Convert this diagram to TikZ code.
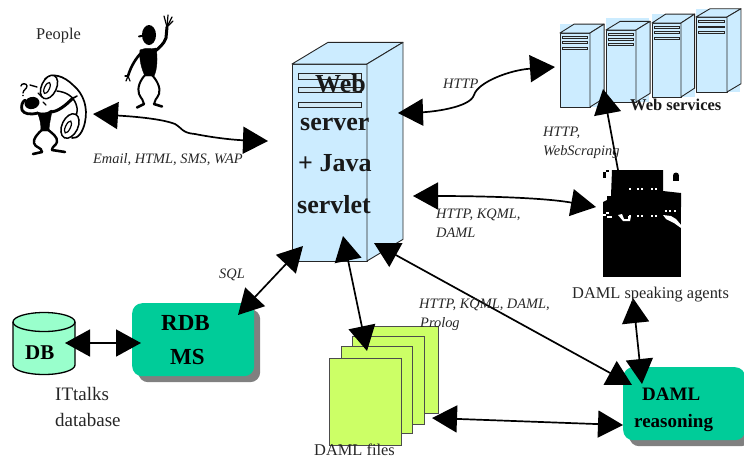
\documentclass[tikz,border=0pt]{standalone}
\usepackage{fontspec}
\setmainfont{Liberation Serif}
\usetikzlibrary{arrows.meta,calc}
\definecolor{srvblue}{HTML}{CCECFF}
\definecolor{boxgreen}{HTML}{00CC99}
\definecolor{dbgreen}{HTML}{99FFCC}
\definecolor{pagegreen}{HTML}{CCFF66}
\definecolor{shadowgray}{HTML}{808080}
\definecolor{barblue}{HTML}{99CCE6}
\tikzset{
  bighead/.tip={Triangle[length=25pt,width=27pt]},
  conn/.style={line width=1.7pt,draw=black,{bighead}-{bighead}},
  connone/.style={line width=1.7pt,draw=black,-{bighead}},
  srvline/.style={draw=black!85,line width=0.9pt,fill=srvblue,line join=round},
  srvbar/.style={draw=black!85,line width=0.9pt,fill=barblue!45},
  roundbox/.style={rounded corners=10pt,fill=boxgreen,draw=none,anchor=north west,minimum width=122pt,minimum height=73pt,inner sep=0pt},
  roundshadow/.style={roundbox,fill=shadowgray},
  pagebox/.style={draw=black!70,line width=0.9pt,fill=pagegreen},
  ital/.style={anchor=base west,inner sep=0pt,font=\fontsize{14.4}{14.4}\selectfont\itshape,text=black!85},
  plain/.style={anchor=base west,inner sep=0pt,font=\fontsize{16.4}{16.4}\selectfont,text=black!85},
  plainbig/.style={anchor=base west,inner sep=0pt,font=\fontsize{19}{19}\selectfont,text=black!85},
  boldhuge/.style={anchor=base west,inner sep=0pt,font=\fontsize{26}{26}\selectfont\bfseries,text=black!90},
  boldmid/.style={anchor=base west,inner sep=0pt,font=\fontsize{21}{21}\selectfont\bfseries},
  boldsmall/.style={anchor=base west,inner sep=0pt,font=\fontsize{16.5}{16.5}\selectfont\bfseries,text=black!90},
  limb/.style={draw=black,line cap=round,line join=round},
  inkfill/.style={fill=black,draw=black,line join=round},
}
\newcommand{\serverunit}[6]{% x0 width ytop height dxfrac dyfrac
  \begin{scope}[shift={(#1,#3)},xscale=#2,yscale=#4]
    \path[srvline] (0,0) -- (1,0) -- (1,1) -- (0,1) -- cycle;
    \path[srvline] (0,0) -- (#5,-#6) -- (1+#5,-#6) -- (1,0) -- cycle;
    \path[srvline] (1,0) -- (1+#5,-#6) -- (1+#5,1-#6) -- (1,1) -- cycle;
    \path[srvbar] (0.08,0.046) rectangle (0.93,0.076);
    \path[srvbar] (0.08,0.12) rectangle (0.93,0.143);
    \path[srvbar] (0.08,0.193) rectangle (0.93,0.218);
  \end{scope}}
\begin{document}
\begin{tikzpicture}[x=1pt,y=-1pt]
\useasboundingbox (0,0) rectangle (744,459);

% ---- person waving
\fill[black] (149,35) ellipse [x radius=7,y radius=10];
\draw[limb,line width=2pt] (139,36.5) -- (146,35);
\path[inkfill] (140,50) .. controls (146,47) and (151,50) .. (156,48) .. controls (158,58) and (157,70) .. (154,76) -- (145,76) .. controls (141,68) and (139,58) .. (140,50) -- cycle;
\draw[limb,line width=3pt] (154,52) .. controls (159,48) and (164,44) .. (166,38) -- (167,27);
\draw[limb,line width=1.2pt] (167,27) -- (164,16);
\draw[limb,line width=1.2pt] (167,27) -- (168,15);
\draw[limb,line width=1.2pt] (167,27) -- (172,17);
\draw[limb,line width=1.2pt] (167,27) -- (173,21);
\draw[limb,line width=2.6pt] (142,52) .. controls (136,58) and (131,66) .. (128,76);
\draw[limb,line width=1.2pt] (128,76) -- (125,76);
\draw[limb,line width=1.2pt] (128,76) -- (126,81);
\draw[limb,line width=1.2pt] (128,76) -- (130,81);
\draw[limb,line width=2pt] (146,74) .. controls (140,80) and (137,88) .. (139,94) .. controls (141,99) and (144,100) .. (144,104);
\draw[limb,line width=2.6pt] (144,104) -- (137,107.5);
\draw[limb,line width=2pt] (151,74) .. controls (157,80) and (161,88) .. (159,94) .. controls (157,99) and (154,100) .. (154,104);
\draw[limb,line width=2.6pt] (154,104) -- (162,106.5);

% ---- person on the phone
\draw[limb,line width=1.7pt] (45,79) .. controls (52,72) and (64,76) .. (73,85) .. controls (84,94) and (88,108) .. (85,122) .. controls (83,132) and (78,139) .. (72,138);
\draw[limb,line width=1.5pt] (57,91) .. controls (66,92) and (73,96) .. (76,104) .. controls (78,109) and (77,113) .. (76,116);
\draw[line width=1.5pt,fill=white,rotate around={-25:(49,87)}] (49,87) ellipse [x radius=7.5,y radius=12.5];
\draw[line width=1.2pt,rotate around={-25:(47,88)}] (47,88) ellipse [x radius=2.5,y radius=6];
\draw[line width=1.5pt,fill=white,rotate around={-25:(70,126)}] (70,126) ellipse [x radius=8,y radius=13];
\draw[line width=1.2pt,rotate around={-25:(68,127)}] (68,127) ellipse [x radius=2.5,y radius=6.5];
\fill[black,rotate around={15:(32,103)}] (32,103) ellipse [x radius=7.5,y radius=6];
\path[inkfill] (37,112) .. controls (43,114) and (47,113) .. (52,110) .. controls (51,118) and (49,124) .. (49,131) -- (41,131) .. controls (41,124) and (40,118) .. (37,112) -- cycle;
\draw[limb,line width=2.8pt] (38,113) .. controls (30,115) and (24,114) .. (22,110) .. controls (21,106) and (22,102) .. (25,100);
\draw[limb,line width=3pt] (50,112) .. controls (58,112) and (66,105) .. (73,98);
\draw[limb,line width=1.6pt] (70,100) -- (77,96);
\draw[limb,line width=2.4pt] (43,129) .. controls (37,134) and (33,139) .. (34,143) .. controls (35,148) and (42,147) .. (42,152);
\draw[limb,line width=2.6pt] (42,152) -- (33,154);
\draw[limb,line width=2.4pt] (47,129) .. controls (52,133) and (58,137) .. (57,142) .. controls (56,146) and (52,146) .. (52,150);
\draw[limb,line width=2.6pt] (52,150) -- (65,152);
\draw[limb,line width=1.4pt] (21,86) .. controls (21,83) and (27,83) .. (27,86) .. controls (27,89) and (23,90) .. (23,93);
\fill[black] (23,95.5) circle (0.9);
\draw[limb,line width=1.4pt] (30,85) -- (37,87);
\draw[limb,line width=1.4pt] (38,93) -- (42,97);
\draw[limb,line width=1.4pt] (43,102) -- (46,105);

% ---- web services
\fill[srvblue] (560,24) rectangle (604,107);
\fill[srvblue] (606,18) rectangle (649,102);
\fill[srvblue] (652,14) rectangle (695,97);
\fill[srvblue] (696,9) rectangle (740,92);
\serverunit{560}{30}{33}{74}{0.47}{0.12}
\serverunit{606}{30}{30}{72}{0.47}{0.12}
\serverunit{652}{29}{23}{74}{0.47}{0.12}
\serverunit{696}{31}{17}{75}{0.45}{0.11}

% ---- main server
\serverunit{292}{75}{64}{197}{0.48}{0.11}

% ---- agents block
\path[fill=black] (612,170) -- (663,170) -- (663,191) -- (681,193) -- (681,207) -- (603,207) -- (603,202) -- (607,200) -- (607,196) -- (611,196) -- cycle;
\fill[black] (603,172) rectangle (606,178);
\fill[black] (606,170) rectangle (609,172);
\fill[black] (676,175.5) circle (3);
\fill[black] (673,176) rectangle (679,181);
\path[fill=black] (603,207) rectangle (681,277);
\fill[white] (603,214) rectangle (606,216);
\fill[white] (606,212) rectangle (609,214);
\fill[white] (607,216) rectangle (612,218);
\fill[white] (618,215) -- (622,214) -- (624,219) -- (628,219) -- (628,216) -- (631,216) -- (630,221) -- (623,221) -- cycle;
\fill[white] (663,215) -- (671,216) -- (676,219) -- (681,225) -- (681,228) -- (674,223) -- (666,219) -- cycle;
\fill[white] (665,210) rectangle (667,212);
\fill[white] (669,210) rectangle (671,212);
\fill[white] (674,210) rectangle (676,212);
\foreach \dotx in {629,637,641,651,655}{\fill[white] (\dotx,188) rectangle +(1.5,1.5);\fill[white] (\dotx,215) rectangle +(1.5,1.5);}

% ---- DAML files
\path[pagebox] (365,326) rectangle (438,413);
\path[pagebox] (352,336) rectangle (424,424);
\path[pagebox] (341,346) rectangle (412,433);
\path[pagebox] (329,358) rectangle (401,445);

% ---- database
\path[fill=dbgreen,draw=black,line width=1.3pt] (13,322) arc [start angle=180,end angle=0,x radius=31,y radius=-9.5] -- (75,365) arc [start angle=0,end angle=-180,x radius=31,y radius=-9.5] -- cycle;
\draw[line width=1.3pt] (13,322) arc [start angle=-180,end angle=0,x radius=31,y radius=-9.5];
\coordinate (dbport) at (65,343);

% ---- rounded boxes
\node[roundshadow] (rdbshade) at (138,309) {};
\node[roundbox] (rdb) at (132,303) {};
\node[roundshadow] (reasonshade) at (629,373) {};
\node[roundbox] (reason) at (623,367) {};

% ---- connector ends
\coordinate (peopleport) at (93,114);
\coordinate (srvleft) at (268,141);
\coordinate (srvhttp) at (398,113);
\coordinate (wsport) at (555,67);
\coordinate (wsbottom) at (603,89);
\coordinate (agenttop) at (618,170);
\coordinate (srvagent) at (413,196);
\coordinate (agentleft) at (596,207);
\coordinate (srvsql) at (303,246);
\coordinate (rdbsql) at (238,315);
\coordinate (srvfiles) at (343,236);
\coordinate (filestop) at (367,351);
\coordinate (srvreason) at (374,243);
\coordinate (reasonnw) at (632,385);
\coordinate (agentbelow) at (633,298);
\coordinate (reasontop) at (642,384);
\coordinate (filesright) at (432,418);
\coordinate (reasonleft) at (623,425);
\coordinate (rdbleft) at (141,343);

% ---- connectors
\draw[conn] (peopleport) .. controls (125,116) and (160,118) .. (175,124) .. controls (182,128) and (182,133) .. (195,134) .. controls (215,138) and (235,140) .. (srvleft);
\draw[conn] (srvhttp) .. controls (430,112) and (470,108) .. (474,95) .. controls (478,82) and (510,70) .. (wsport);
\draw[connone] (agenttop) -- (wsbottom);
\draw[conn] (srvagent) .. controls (470,196) and (540,197) .. (agentleft);
\draw[conn] (srvsql) -- (rdbsql);
\draw[conn] (srvfiles) -- (filestop);
\draw[conn] (srvreason) -- (reasonnw);
\draw[conn] (agentbelow) -- (reasontop);
\draw[conn] (filesright) -- (reasonleft);
\draw[conn] (dbport) -- (rdbleft);

% ---- labels
\node[plain] (tpeople) at (36,39) {People};
\node[ital] (temail) at (93,163) {Email, HTML, SMS, WAP};
\node[ital] (thttpa) at (443,88) {HTTP};
\node[ital] (thttpb) at (543,136) {HTTP,};
\node[ital] (tscrape) at (543,155) {WebScraping};
\node[ital] (tkqml) at (436,218) {HTTP, KQML,};
\node[ital] (tdamla) at (436,237) {DAML};
\node[ital] (tsql) at (219,278) {SQL};
\node[ital] (tkqmlb) at (419,308) {HTTP, KQML, DAML,};
\node[ital] (tprolog) at (420,327) {Prolog};
\node[boldhuge] (tweb) at (315,92) {Web};
\node[boldhuge] (tserver) at (300,130) {server};
\node[boldhuge] (tjava) at (298,171) {+ Java};
\node[boldhuge] (tservlet) at (297,213) {servlet};
\node[boldsmall] (tws) at (630,110) {Web services};
\node[plain] (tagents) at (572,298) {DAML speaking agents};
\node[plainbig] (tit) at (55,400) {ITtalks};
\node[plainbig] (tdatabase) at (55,426) {database};
\node[plain] (tfiles) at (314,455) {DAML files};
\node[boldmid] (tdb) at (25,359) {DB};
\node[anchor=base west,inner sep=0pt,font=\fontsize{23}{23}\selectfont\bfseries] (trdb) at (161,330) {RDB};
\node[anchor=base west,inner sep=0pt,font=\fontsize{23}{23}\selectfont\bfseries] (tms) at (170,364) {MS};
\node[anchor=base west,inner sep=0pt,font=\fontsize{19}{19}\selectfont\bfseries] (tdaml) at (642,400) {DAML};
\node[anchor=base west,inner sep=0pt,font=\fontsize{19}{19}\selectfont\bfseries] (treason) at (634,427) {reasoning};
\end{tikzpicture}
\end{document}
